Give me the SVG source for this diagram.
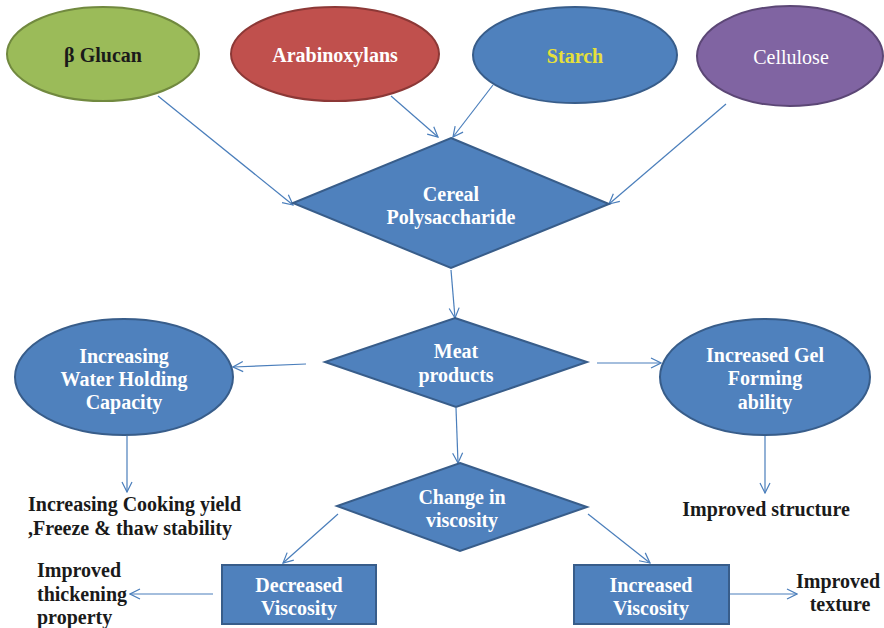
<svg xmlns="http://www.w3.org/2000/svg" width="884" height="628" viewBox="0 0 884 628">
<defs>
<marker id="arr" viewBox="0 0 12 12" refX="11" refY="6" markerWidth="12" markerHeight="12" markerUnits="userSpaceOnUse" orient="auto">
<path d="M1,1 L11,6 L1,11" fill="none" stroke="#4A7EBB" stroke-width="1.2"/>
</marker>
</defs>
<style>
.b{fill:#4F81BD;stroke:#385D8A;stroke-width:2}
.t{font-family:'Liberation Serif','Times New Roman',serif;font-size:20px;font-weight:bold;text-anchor:middle}
.s{text-anchor:start}
.n{font-weight:normal}
.w{fill:#FFFFFF}
.k{fill:#1A1A1A}
.c line{stroke:#4A7EBB;stroke-width:1.2;marker-end:url(#arr)}
</style>
<rect width="884" height="628" fill="#FFFFFF"/>
<g class="c">
<line x1="158" y1="96" x2="293" y2="205"/>
<line x1="391" y1="96" x2="438" y2="137"/>
<line x1="493" y1="85" x2="453" y2="137"/>
<line x1="726" y1="104" x2="609" y2="204"/>
<line x1="451" y1="270" x2="455" y2="318"/>
<line x1="306" y1="364" x2="233" y2="367"/>
<line x1="597" y1="363" x2="661" y2="363"/>
<line x1="127" y1="436" x2="127" y2="492"/>
<line x1="765" y1="436" x2="765" y2="493"/>
<line x1="456" y1="408" x2="458" y2="463"/>
<line x1="338" y1="514" x2="283" y2="563"/>
<line x1="588" y1="514" x2="650" y2="563"/>
<line x1="213" y1="594" x2="130" y2="594"/>
<line x1="729" y1="594" x2="797" y2="594"/>
</g>
<g id="glucan">
<ellipse cx="103" cy="54" rx="96" ry="47" fill="#9BBB59" stroke="#71893F" stroke-width="2"/>
<text class="t k" x="103" y="62">β Glucan</text>
</g>
<g id="arabinoxylans">
<ellipse cx="335" cy="54" rx="104" ry="47" fill="#C0504D" stroke="#8C3836" stroke-width="2"/>
<text class="t w" x="335" y="62">Arabinoxylans</text>
</g>
<g id="starch">
<ellipse cx="575" cy="55" rx="102" ry="48" class="b"/>
<text class="t" x="575" y="63" fill="#E6E03A">Starch</text>
</g>
<g id="cellulose">
<ellipse cx="790" cy="56" rx="93" ry="50" fill="#8064A2" stroke="#5C4776" stroke-width="2"/>
<text class="t w n" x="791" y="64">Cellulose</text>
</g>
<g id="cereal">
<polygon points="451,138 609,204 451,268 293,203" class="b"/>
<text class="t w" x="451" y="201">Cereal</text>
<text class="t w" x="451" y="224">Polysaccharide</text>
</g>
<g id="meat">
<polygon points="455,318 587,362 456,407 325,362" class="b"/>
<text class="t w" x="456" y="358">Meat</text>
<text class="t w" x="456" y="382">products</text>
</g>
<g id="water">
<ellipse cx="124" cy="377" rx="109" ry="58" class="b"/>
<text class="t w" x="124" y="363">Increasing</text>
<text class="t w" x="124" y="386">Water Holding</text>
<text class="t w" x="124" y="409">Capacity</text>
</g>
<g id="gel">
<ellipse cx="765" cy="377" rx="105" ry="58" class="b"/>
<text class="t w" x="765" y="362">Increased Gel</text>
<text class="t w" x="765" y="385">Forming</text>
<text class="t w" x="765" y="409">ability</text>
</g>
<g id="cooking">
<text class="t k s" x="28" y="511">Increasing Cooking yield</text>
<text class="t k s" x="28" y="535">,Freeze &amp; thaw stability</text>
</g>
<g id="structure">
<text class="t k" x="766" y="516">Improved structure</text>
</g>
<g id="change">
<polygon points="460,463 587,507 460,551 337,506" class="b"/>
<text class="t w" x="462" y="504">Change in</text>
<text class="t w" x="462" y="527">viscosity</text>
</g>
<g id="decreased">
<rect x="222" y="565" width="154" height="59" class="b"/>
<text class="t w" x="299" y="592">Decreased</text>
<text class="t w" x="299" y="615">Viscosity</text>
</g>
<g id="increased">
<rect x="574" y="565" width="155" height="59" class="b"/>
<text class="t w" x="651" y="592">Increased</text>
<text class="t w" x="651" y="615">Viscosity</text>
</g>
<g id="thickening">
<text class="t k s" x="37" y="577">Improved</text>
<text class="t k s" x="37" y="601">thickening</text>
<text class="t k s" x="37" y="624">property</text>
</g>
<g id="texture">
<text class="t k" x="838" y="588">Improved</text>
<text class="t k" x="840" y="611">texture</text>
</g>
</svg>
